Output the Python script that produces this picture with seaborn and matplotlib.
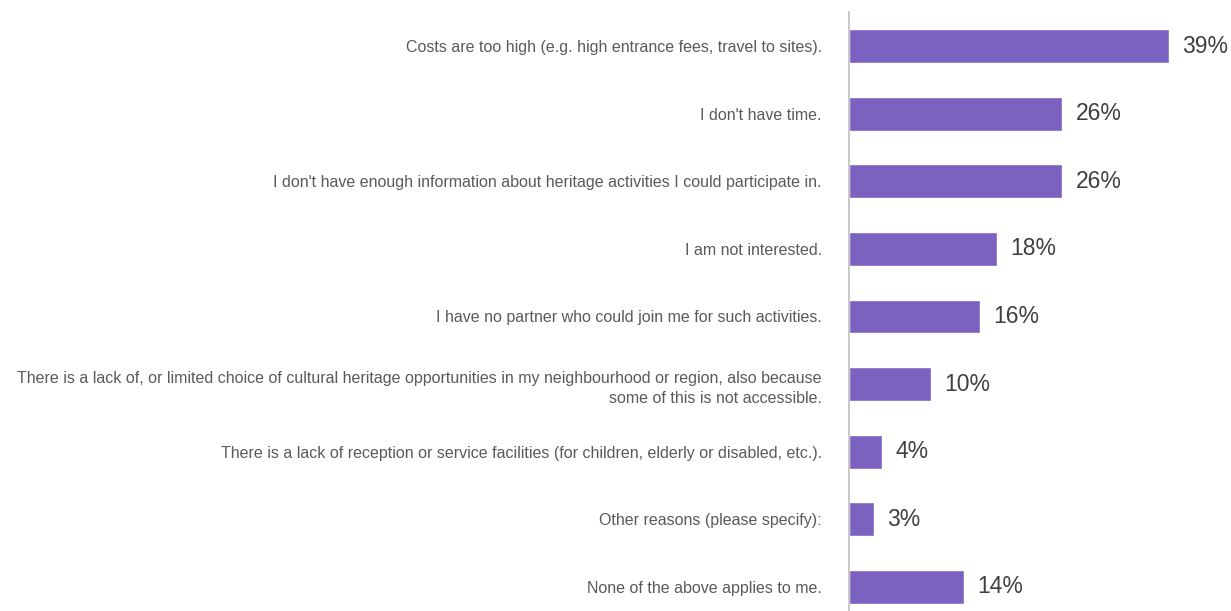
import matplotlib
matplotlib.use("Agg")
import matplotlib.pyplot as plt
import seaborn as sns
import pandas as pd

reasons = [
    "Costs are too high (e.g. high entrance fees, travel to sites).",
    "I don't have time.",
    "I don't have enough information about heritage activities I could participate in.",
    "I am not interested.",
    "I have no partner who could join me for such activities.",
    "There is a lack of, or limited choice of cultural heritage opportunities in my neighbourhood or region, also because\nsome of this is not accessible.",
    "There is a lack of reception or service facilities (for children, elderly or disabled, etc.).",
    "Other reasons (please specify):",
    "None of the above applies to me.",
]
shares = [39, 26, 26, 18, 16, 10, 4, 3, 14]

df = pd.DataFrame({"reason": reasons, "share": shares})

sns.set_theme(style="white")
plt.rcParams["font.family"] = ["Liberation Sans", "DejaVu Sans"]

fig = plt.figure(figsize=(12.31, 6.11), dpi=100)
ax = fig.add_axes([0.6897, -0.016, 0.300, 0.996])

sns.barplot(data=df, x="share", y="reason", orient="h", color="#7B62C0",
            saturation=1, width=0.5, ax=ax)

ax.set_xlim(0, 45)
ax.set_xlabel("")
ax.set_ylabel("")
ax.set_xticks([])
for side in ["top", "right", "bottom"]:
    ax.spines[side].set_visible(False)
ax.spines["left"].set_color("#bfbfbf")
ax.spines["left"].set_linewidth(1.2)

ax.tick_params(axis="y", length=0, pad=19.5, labelsize=11.5, labelcolor="#5a5a5a")
for lbl in ax.get_yticklabels():
    lbl.set_horizontalalignment("right")
    lbl.set_multialignment("right")
    lbl.set_linespacing(1.45)

for container in ax.containers:
    ax.bar_label(container, labels=[f"{v}%" for v in shares], padding=9.5,
                 fontsize=16.5, color="#404040")

fig.savefig("out.png", dpi=100, facecolor="white")
